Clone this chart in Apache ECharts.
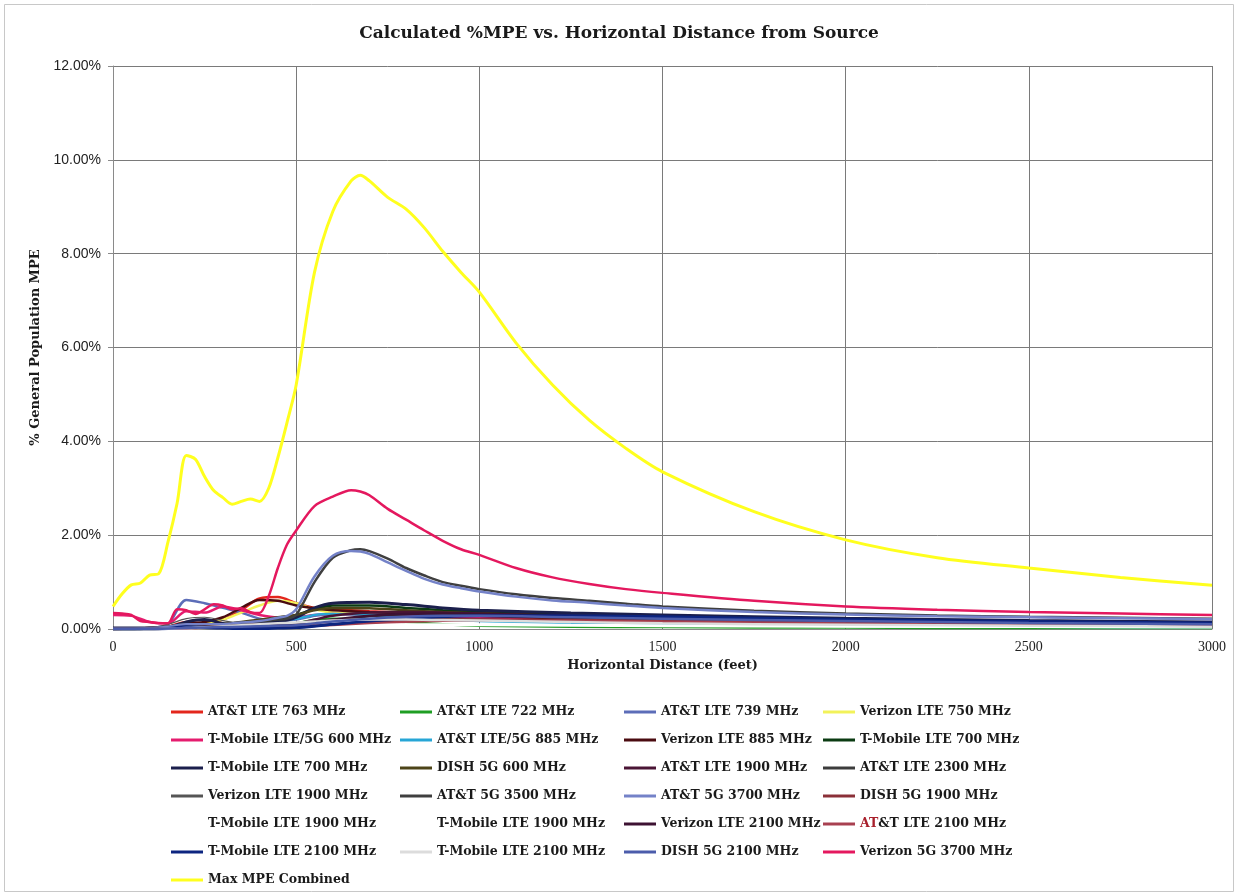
<!DOCTYPE html>
<html>
<head>
<meta charset="utf-8">
<script src="https://cdn.jsdelivr.net/npm/echarts@6/dist/echarts.min.js"></script>
<style>html,body{margin:0;padding:0;background:#fff}#c{width:1238px;height:896px}</style>
</head>
<body>
<div id="c"></div>
<script>
// ---- distances (feet) ----
const mainDist = [0,25,50,75,100,125,150,175,200,225,250,275,300,325,350,375,400,425,450,475,500,550,600,650,675,700,750,800,850,900,950,1000,1100,1200,1300,1400,1500,1750,2000,2250,2500,2750,3000];
const smallDist = [0,50,100,150,200,250,300,350,400,450,500,550,600,700,800,900,1000,1250,1500,2000,2500,3000];

// ---- %MPE values (percent) ----
const maxCombined = [0.48,0.75,0.94,0.98,1.15,1.18,1.85,2.68,3.7,3.62,3.25,2.95,2.8,2.66,2.72,2.77,2.72,3.0,3.65,4.4,5.2,7.6,8.9,9.55,9.67,9.55,9.2,8.95,8.55,8.05,7.6,7.18,6.1,5.2,4.45,3.85,3.35,2.5,1.9,1.52,1.3,1.1,0.93];
const verizon5G3700 = [0.34,0.33,0.3,0.17,0.15,0.12,0.12,0.42,0.4,0.32,0.42,0.53,0.5,0.42,0.44,0.36,0.34,0.7,1.3,1.8,2.1,2.62,2.82,2.96,2.93,2.85,2.56,2.33,2.1,1.88,1.7,1.58,1.3,1.1,0.96,0.85,0.77,0.6,0.48,0.41,0.36,0.33,0.3];
const att5G3500 = [0,0,0,0.01,0.02,0.03,0.05,0.08,0.1,0.1,0.1,0.1,0.1,0.12,0.14,0.15,0.16,0.18,0.2,0.22,0.3,1.0,1.52,1.68,1.7,1.66,1.5,1.3,1.14,1.0,0.92,0.85,0.74,0.66,0.6,0.54,0.48,0.39,0.33,0.29,0.26,0.24,0.22];
const att5G3700 = [0,0,0,0.01,0.02,0.03,0.05,0.08,0.1,0.1,0.1,0.1,0.1,0.12,0.14,0.15,0.17,0.2,0.24,0.28,0.42,1.12,1.56,1.66,1.65,1.6,1.42,1.24,1.07,0.95,0.87,0.8,0.69,0.61,0.56,0.5,0.45,0.36,0.31,0.27,0.25,0.23,0.21];

const attLte763   = [0,0.01,0.02,0.05,0.15,0.12,0.2,0.4,0.65,0.68,0.55,0.45,0.42,0.38,0.35,0.32,0.3,0.24,0.19,0.13,0.1,0.08];
const attLte722   = [0,0,0,0.01,0.03,0.05,0.05,0.06,0.08,0.1,0.12,0.2,0.22,0.2,0.15,0.1,0.07,0.05,0.04,0.03,0.02,0.02];
const attLte739   = [0,0.01,0.02,0.1,0.62,0.55,0.45,0.35,0.22,0.18,0.2,0.28,0.32,0.33,0.32,0.3,0.28,0.23,0.2,0.15,0.12,0.1];
const verizonLte750 = [0,0.01,0.02,0.05,0.1,0.12,0.2,0.35,0.5,0.6,0.55,0.42,0.35,0.3,0.27,0.25,0.23,0.18,0.15,0.1,0.08,0.06];
const tmo600      = [0.3,0.28,0.15,0.12,0.38,0.35,0.48,0.4,0.3,0.25,0.25,0.3,0.32,0.3,0.28,0.26,0.24,0.2,0.16,0.12,0.09,0.07];
const attLte885   = [0,0,0.01,0.02,0.06,0.08,0.1,0.12,0.15,0.2,0.22,0.3,0.32,0.3,0.25,0.2,0.17,0.13,0.1,0.07,0.05,0.04];
const verizonLte885 = [0,0.01,0.02,0.05,0.12,0.15,0.25,0.45,0.62,0.6,0.5,0.44,0.4,0.36,0.33,0.3,0.28,0.22,0.18,0.12,0.09,0.07];
const tmo700a     = [0,0,0.01,0.02,0.08,0.1,0.08,0.1,0.15,0.2,0.3,0.42,0.5,0.5,0.45,0.4,0.36,0.3,0.25,0.18,0.14,0.11];
const tmo700b     = [0.02,0.02,0.02,0.03,0.15,0.2,0.12,0.1,0.12,0.15,0.25,0.45,0.55,0.57,0.52,0.45,0.4,0.34,0.3,0.23,0.18,0.15];
const dish600     = [0,0,0.01,0.03,0.1,0.1,0.1,0.15,0.2,0.25,0.3,0.4,0.45,0.44,0.4,0.36,0.33,0.27,0.22,0.16,0.12,0.1];
const attLte1900  = [0,0,0.01,0.02,0.05,0.08,0.1,0.12,0.1,0.1,0.12,0.2,0.28,0.35,0.36,0.35,0.33,0.28,0.24,0.18,0.14,0.11];
const attLte2300  = [0,0,0.01,0.02,0.05,0.06,0.08,0.1,0.08,0.06,0.08,0.12,0.18,0.26,0.3,0.31,0.3,0.26,0.22,0.16,0.13,0.1];
const verizonLte1900 = [0,0,0.02,0.1,0.22,0.25,0.18,0.12,0.08,0.06,0.08,0.12,0.16,0.2,0.22,0.22,0.21,0.18,0.15,0.11,0.09,0.07];
const dish1900    = [0,0,0,0.01,0.02,0.03,0.03,0.04,0.05,0.06,0.06,0.08,0.1,0.14,0.18,0.2,0.2,0.19,0.17,0.13,0.1,0.08];
const tmo1900a    = [0,0,0,0.01,0.02,0.02,0.03,0.04,0.05,0.05,0.06,0.07,0.08,0.09,0.1,0.1,0.1,0.09,0.08,0.06,0.05,0.04];
const tmo1900b    = [0,0,0,0.01,0.01,0.02,0.02,0.03,0.04,0.04,0.05,0.06,0.07,0.08,0.08,0.08,0.08,0.07,0.06,0.05,0.04,0.03];
const verizonLte2100 = [0,0,0,0.01,0.03,0.05,0.06,0.07,0.08,0.1,0.12,0.15,0.2,0.28,0.32,0.33,0.32,0.28,0.24,0.18,0.14,0.11];
const attLte2100  = [0,0,0,0,0.01,0.02,0.02,0.03,0.04,0.05,0.06,0.07,0.08,0.12,0.15,0.17,0.18,0.18,0.16,0.12,0.09,0.07];
const tmo2100a    = [0,0,0,0.01,0.05,0.03,0.02,0.01,0.01,0.02,0.03,0.06,0.1,0.17,0.22,0.26,0.28,0.28,0.26,0.2,0.16,0.13];
const tmo2100b    = [0,0,0,0.01,0.02,0.04,0.06,0.08,0.1,0.12,0.14,0.16,0.18,0.2,0.2,0.19,0.18,0.15,0.12,0.09,0.07,0.05];
const dish2100    = [0,0,0,0.01,0.02,0.03,0.04,0.05,0.06,0.07,0.08,0.12,0.16,0.22,0.26,0.28,0.28,0.25,0.22,0.17,0.13,0.1];

// ---- tick labels ----
const xTicks = [0,500,1000,1500,2000,2500,3000];
const yTicks = [0,2,4,6,8,10,12];

// ---- series list (legend row-major order) ----
const seriesDefs = [
  ['AT&T LTE 763 MHz', smallDist, attLte763, '#e3261c', 2.5],
  ['AT&T LTE 722 MHz', smallDist, attLte722, '#1f9e24', 2.5],
  ['AT&T LTE 739 MHz', smallDist, attLte739, '#5c6db8', 2.5],
  ['Verizon LTE 750 MHz', smallDist, verizonLte750, '#f2f25a', 2.5],
  ['T-Mobile LTE/5G 600 MHz', smallDist, tmo600, '#e51c6e', 2.5],
  ['AT&T LTE/5G 885 MHz', smallDist, attLte885, '#27a6d6', 2.5],
  ['Verizon LTE 885 MHz', smallDist, verizonLte885, '#4a0b10', 2.5],
  ['T-Mobile LTE 700 MHz', smallDist, tmo700a, '#0b3b12', 2.5],
  ['T-Mobile LTE 700 MHz ', smallDist, tmo700b, '#1b1f4c', 3],
  ['DISH 5G 600 MHz', smallDist, dish600, '#4d4418', 2.5],
  ['AT&T LTE 1900 MHz', smallDist, attLte1900, '#4a1535', 2.5],
  ['AT&T LTE 2300 MHz', smallDist, attLte2300, '#3c3c3c', 1.5],
  ['Verizon LTE 1900 MHz', smallDist, verizonLte1900, '#555555', 1.2],
  ['AT&T 5G 3500 MHz', mainDist, att5G3500, '#3f3f3f', 2.5],
  ['AT&T 5G 3700 MHz', mainDist, att5G3700, '#7482c8', 2.5],
  ['DISH 5G 1900 MHz', smallDist, dish1900, '#8b3038', 2.5],
  ['T-Mobile LTE 1900 MHz', smallDist, tmo1900a, '#ffffff', 2],
  ['T-Mobile LTE 1900 MHz ', smallDist, tmo1900b, '#ffffff', 2],
  ['Verizon LTE 2100 MHz', smallDist, verizonLte2100, '#3d1232', 2.5],
  ['AT&T LTE 2100 MHz', smallDist, attLte2100, '#a84050', 2],
  ['T-Mobile LTE 2100 MHz', smallDist, tmo2100a, '#0d2580', 3],
  ['T-Mobile LTE 2100 MHz ', smallDist, tmo2100b, '#dcdcdc', 2.5],
  ['DISH 5G 2100 MHz', smallDist, dish2100, '#4b5cab', 2.5],
  ['Verizon 5G 3700 MHz', mainDist, verizon5G3700, '#e4185e', 2.5],
  ['Max MPE Combined', mainDist, maxCombined, '#ffff1e', 3]
];

const names = seriesDefs.map(d => d[0]);
const cols = [[],[],[],[]];
names.forEach((n,i) => cols[i % 4].push(n));

const legendFont = 'DejaVu Serif';
const legendLefts = [171, 400, 624, 823];
const legends = cols.map((list, ci) => ({
  orient: 'vertical',
  left: legendLefts[ci],
  top: 698,
  height: 198,
  padding: 0,
  itemGap: 0,
  itemWidth: 32,
  itemHeight: 3,
  icon: 'rect',
  selectedMode: false,
  data: list,
  formatter: n => n === 'AT&T LTE 2100 MHz' ? '{r|AT}{t|&T LTE 2100 MHz}' : '{t|' + n + '}',
  textStyle: {
    fontFamily: legendFont, fontWeight: 'bold', fontSize: 12.5, color: '#1a1a1a', lineHeight: 28,
    rich: {
      t: {fontFamily: legendFont, fontWeight: 'bold', fontSize: 12.5, color: '#1a1a1a', lineHeight: 28},
      r: {fontFamily: legendFont, fontWeight: 'bold', fontSize: 12.5, color: '#a8202c', lineHeight: 28}
    }
  }
}));

const chart = echarts.init(document.getElementById('c'), null, {renderer: 'canvas'});
chart.setOption({
  animation: false,
  backgroundColor: '#ffffff',
  title: {
    text: 'Calculated %MPE vs. Horizontal Distance from Source',
    left: 'center', top: 20,
    textStyle: {fontFamily: 'DejaVu Serif', fontWeight: 'bold', fontSize: 17, color: '#1a1a1a'}
  },
  graphic: [{
    type: 'rect', shape: {x: 4.5, y: 4.5, width: 1229, height: 887},
    style: {fill: 'none', stroke: '#c8c8c8', lineWidth: 1}, silent: true
  }],
  legend: legends,
  grid: {left: 113, right: 26, top: 66, bottom: 267},
  xAxis: {
    type: 'value', min: 0, max: 3000, interval: 500,
    name: 'Horizontal Distance (feet)', nameLocation: 'middle', nameGap: 29,
    nameTextStyle: {fontFamily: 'DejaVu Serif', fontWeight: 'bold', fontSize: 13, color: '#1a1a1a'},
    axisLine: {show: true, lineStyle: {color: '#8a8a8a'}},
    axisTick: {show: false},
    axisLabel: {
      margin: 11, color: '#222', fontFamily: 'Liberation Sans Narrow', fontSize: 14,
      formatter: v => xTicks.includes(v) ? String(v) : ''
    },
    splitLine: {show: true, lineStyle: {color: '#7a7a7a', width: 1}}
  },
  yAxis: {
    type: 'value', min: 0, max: 12, interval: 2,
    name: '% General Population MPE', nameLocation: 'middle', nameGap: 62, nameRotate: 90,
    nameTextStyle: {fontFamily: 'DejaVu Serif', fontWeight: 'bold', fontSize: 13, color: '#1a1a1a'},
    axisLine: {show: true, lineStyle: {color: '#8a8a8a'}},
    axisTick: {show: true, inside: false, length: 5, lineStyle: {color: '#8a8a8a'}},
    axisLabel: {
      margin: 12, color: '#222', fontFamily: 'Liberation Sans', fontSize: 14,
      formatter: v => yTicks.includes(v) ? v.toFixed(2) + '%' : ''
    },
    splitLine: {show: true, lineStyle: {color: '#7a7a7a', width: 1}}
  },
  series: seriesDefs.map(d => ({
    name: d[0],
    type: 'line',
    data: d[1].map((x, i) => [x, d[2][i]]),
    smooth: 0.3,
    symbol: 'none',
    color: d[3],
    itemStyle: {color: d[3]},
    lineStyle: {color: d[3], width: d[4]},
    emphasis: {disabled: true}
  }))
});
</script>
</body>
</html>
